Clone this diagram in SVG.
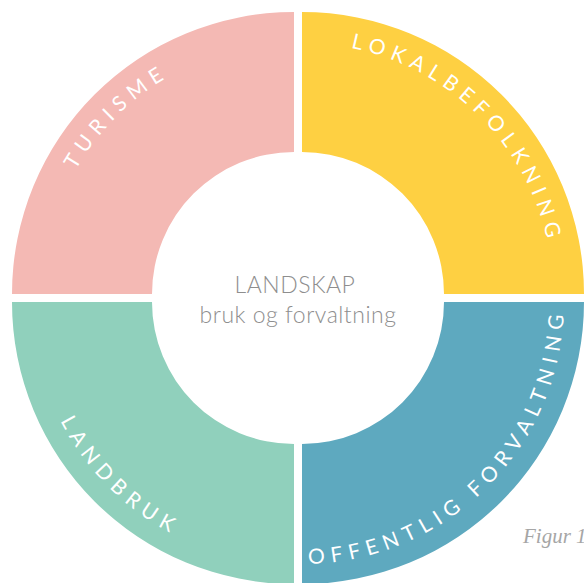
<svg xmlns="http://www.w3.org/2000/svg" xmlns:xlink="http://www.w3.org/1999/xlink" width="584" height="583" viewBox="0 0 584 583">
<style>
.lbl{font-family:Lato,"Open Sans","DejaVu Sans",sans-serif;font-size:21px;fill:#ffffff;letter-spacing:6.5px}
.ctr{font-family:Lato,"Open Sans","DejaVu Sans",sans-serif;font-weight:300;font-size:23px;fill:#8e8e8e;text-anchor:middle;letter-spacing:0.5px}
</style>
<defs>
<path id="pT" d="M 43,294 A 251 251 0 0 1 294,43"/>
<path id="pL" d="M 302,43 A 251 251 0 0 1 553,294"/>
<path id="pB" d="M 32,302 A 262 262 0 0 0 294,564"/>
<path id="pO" d="M 302,564 A 262 262 0 0 0 564,302"/>
</defs>
<rect width="584" height="583" fill="#ffffff"/>
<g id="turisme">
<path d="M 12,294 A 282 282 0 0 1 294,12 L 294,152 A 142 142 0 0 0 152,294 Z" fill="#F4B9B4"/>
<text class="lbl"><textPath xlink:href="#pT" href="#pT" startOffset="50%" text-anchor="middle">TURISME</textPath></text>
</g>
<g id="lokalbefolkning">
<path d="M 302,12 A 282 282 0 0 1 584,294 L 444,294 A 142 142 0 0 0 302,152 Z" fill="#FED042"/>
<text class="lbl"><textPath xlink:href="#pL" href="#pL" startOffset="50%" text-anchor="middle">LOKALBEFOLKNING</textPath></text>
</g>
<g id="landbruk">
<path d="M 12,302 L 152,302 A 142 142 0 0 0 294,444 L 294,584 A 282 282 0 0 1 12,302 Z" fill="#90D0BC"/>
<text class="lbl"><textPath xlink:href="#pB" href="#pB" startOffset="50%" text-anchor="middle">LANDBRUK</textPath></text>
</g>
<g id="offentlig">
<path d="M 444,302 L 584,302 A 282 282 0 0 1 302,584 L 302,444 A 142 142 0 0 0 444,302 Z" fill="#5EA9BF"/>
<text class="lbl"><textPath xlink:href="#pO" href="#pO" startOffset="50%" text-anchor="middle">OFFENTLIG FORVALTNING</textPath></text>
</g>
<g id="center">
<text class="ctr" x="295" y="293">LANDSKAP</text>
<text class="ctr" x="298" y="323">bruk og forvaltning</text>
</g>
<g id="connectors"></g>
<text x="523" y="543" font-family="'Liberation Serif',serif" font-style="italic" font-size="21" fill="#a6a6a6">Figur 1</text>
</svg>
